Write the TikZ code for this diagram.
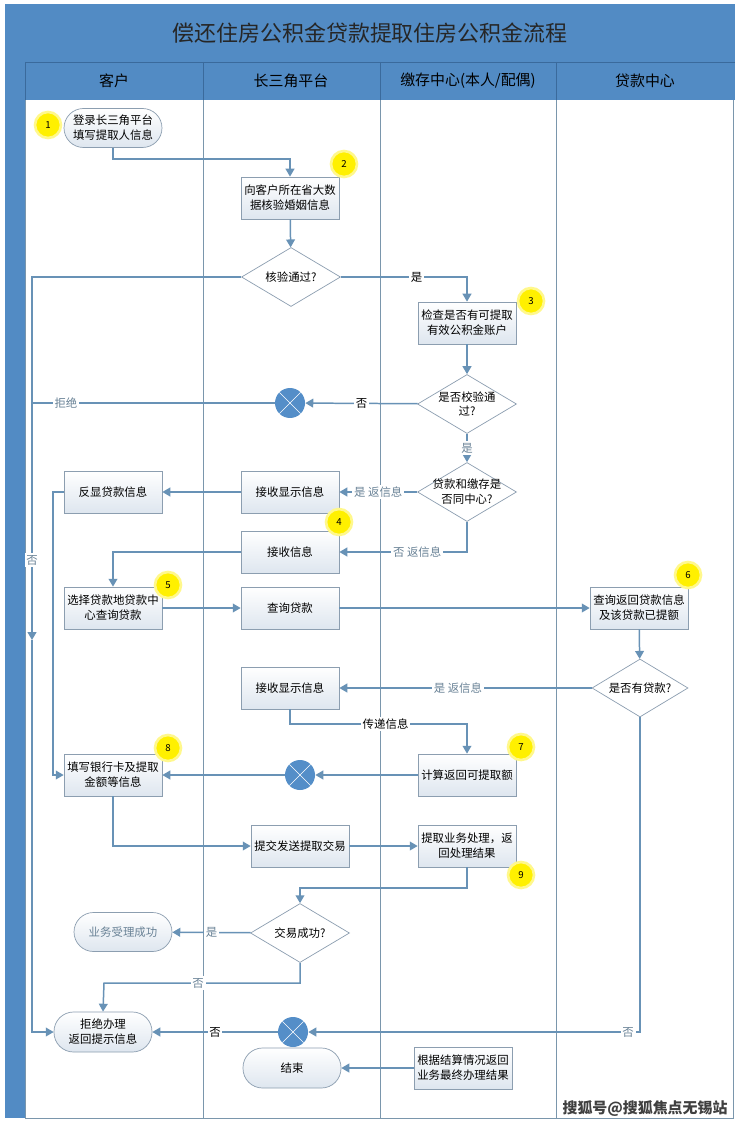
\documentclass[tikz,border=0pt]{standalone}
\usepackage{fontspec}
\setmainfont{Noto Sans CJK SC}
\usetikzlibrary{arrows.meta,shapes.geometric}
\definecolor{lanebl}{RGB}{82,139,196}
\definecolor{lanedk}{RGB}{58,106,156}
\definecolor{laneln}{RGB}{122,150,172}
\definecolor{flowcl}{RGB}{104,146,182}
\definecolor{boxln}{RGB}{140,158,176}
\definecolor{boxsh}{RGB}{222,230,239}
\definecolor{lblgr}{RGB}{105,130,150}
\definecolor{badgey}{RGB}{255,240,0}
\definecolor{xcirc}{RGB}{84,142,200}
\begin{document}
\begin{tikzpicture}[x=0.02cm, y=-0.02cm,
    every node/.style={font=\fontsize{6.5}{8.5}\selectfont, align=center},
    proc/.style={rectangle, draw=boxln, top color=white, bottom color=boxsh, minimum width=1.96cm, minimum height=0.84cm, inner sep=1pt},
    term/.style={rectangle, rounded corners=0.39cm, draw=boxln, top color=white, bottom color=boxsh, minimum width=1.96cm, minimum height=0.78cm, inner sep=1pt},
    decis/.style={diamond, draw=boxln, fill=white, minimum width=1.98cm, minimum height=1.18cm, inner sep=0pt},
    xcross/.style={circle, fill=xcirc, minimum size=0.6cm, inner sep=0pt,
        path picture={\draw[white, line width=0.3pt] (path picture bounding box.north west) -- (path picture bounding box.south east) (path picture bounding box.north east) -- (path picture bounding box.south west);}},
    badge/.style={circle, fill=badgey, draw=badgey!45, line width=1.5pt, minimum size=0.52cm, inner sep=0pt, font=\fontsize{5.5}{6}\selectfont},
    flow/.style={-{Triangle[length=4.5pt,width=5pt]}, draw=flowcl, line width=0.85pt},
    link/.style={draw=flowcl, line width=0.85pt},
    lbl/.style={fill=white, inner sep=1pt, text=black},
    lblg/.style={fill=white, inner sep=1pt, text=lblgr}]
    \fill[white] (0,0) rectangle (740,1128);
    \useasboundingbox (0,0) rectangle (740,1128);
    \fill[lanebl] (5,4) rectangle (735,100);
    \fill[lanebl] (5,100) rectangle (25,1118);
    \draw[laneln] (25,100) -- (25,1118) -- (733,1118) -- (733,100);
    \foreach \xl in {203,380,556} \draw[laneln] (\xl,100) -- (\xl,1118);
    \draw[lanedk] (25,62) -- (735,62);
    \foreach \xl in {25,203,380,556} \draw[lanedk] (\xl,62) -- (\xl,100);
    \node[font=\fontsize{12.5}{14}\selectfont, text=black!85] (title) at (370,33) {偿还住房公积金贷款提取住房公积金流程};
    \node[font=\fontsize{8.5}{10}\selectfont] (h1) at (114,81) {客户};
    \node[font=\fontsize{8.5}{10}\selectfont] (h2) at (291,81) {长三角平台};
    \node[font=\fontsize{8.5}{10}\selectfont] (h3) at (468,81) {缴存中心(本人/配偶)};
    \node[font=\fontsize{8.5}{10}\selectfont] (h4) at (645,81) {贷款中心};

    \node[term] (n1) at (113,128) {登录长三角平台\\填写提取人信息};
    \node[proc] (n2) at (290,198) {向客户所在省大数\\据核验婚姻信息};
    \node[decis, label={center:核验通过?}] (d1) at (291,277) {};
    \node[proc] (n3) at (467,323) {检查是否有可提取\\有效公积金账户};
    \node[decis, label={center:是否校验通\\过?}] (d2) at (467,404) {};
    \node[xcross] (x1) at (290,403) {};
    \node[decis, label={center:贷款和缴存是\\否同中心?}] (d3) at (467,492) {};
    \node[proc] (n4a) at (290,492) {接收显示信息};
    \node[proc] (n4b) at (113,492) {反显贷款信息};
    \node[proc] (n4c) at (290,552) {接收信息};
    \node[proc] (n5) at (113,608) {选择贷款地贷款中\\心查询贷款};
    \node[proc] (n5b) at (290,608) {查询贷款};
    \node[proc] (n6) at (639,608) {查询返回贷款信息\\及该贷款已提额};
    \node[decis, minimum width=1.92cm, minimum height=1.16cm, label={center:是否有贷款?}] (d4) at (640,688) {};
    \node[proc] (n6b) at (290,688) {接收显示信息};
    \node[proc] (n7) at (467,775) {计算返回可提取额};
    \node[xcross] (x2) at (300,775) {};
    \node[proc] (n8) at (113,775) {填写银行卡及提取\\金额等信息};
    \node[proc] (n9a) at (300,846) {提交发送提取交易};
    \node[proc] (n9) at (467,846) {提取业务处理，返\\回处理结果};
    \node[decis, label={center:交易成功?}] (d5) at (300,933) {};
    \node[term, text=lblgr] (ok) at (123,932) {业务受理成功};
    \node[term, minimum height=0.8cm] (rej) at (103,1032) {拒绝办理\\返回提示信息};
    \node[xcross] (x3) at (293,1032) {};
    \node[term, minimum height=0.8cm] (fin) at (292,1068) {结束};
    \node[proc] (n10) at (463,1068) {根据结算情况返回\\业务最终办理结果};

    \coordinate (j1) at (200,159);
    \coordinate (j2) at (32,640);
    \coordinate (j4) at (53,640);
    \coordinate (j5) at (467,724);
    \coordinate (j6) at (300,888);
    \coordinate (j7) at (104,983);

    \draw[flow] (n1.south) |- (j1) -| (n2.north);
    \draw[flow] (n2) -- (d1);
    \draw[flow] (d1.east) -| node[lbl, pos=0.3] {是} (n3.north);
    \draw[flow] (d1.west) -| node[lblg, pos=0.89] {否} (j2);
    \draw[flow] (j2) |- (rej.west);
    \draw[flow] (n3) -- (d2);
    \draw[flow] (d2) -- node[lbl] {否} (x1);
    \draw[link] (x1.west) -- node[lblg, pos=0.86] {拒绝} (x1.west -| j2);
    \draw[flow] (d2) -- node[lblg] {是} (d3);
    \draw[flow] (d3) -- node[lblg] {是 返信息} (n4a);
    \draw[flow] (d3.south) |- node[lblg, pos=0.695] {否 返信息} (n4c.east);
    \draw[flow] (n4a) -- (n4b);
    \draw[flow] (n4b.west) -| (j4) |- (n8.west);
    \draw[flow] (n4c.west) -| (n5.north);
    \draw[flow] (n5) -- (n5b);
    \draw[flow] (n5b) -- (n6);
    \draw[flow] (n6) -- (d4);
    \draw[flow] (d4) -- node[lblg, pos=0.53] {是 返信息} (n6b);
    \draw[flow] (n6b.south) |- node[lbl, pos=0.77] {传递信息} (j5) -- (n7.north);
    \draw[flow] (n7) -- (x2);
    \draw[flow] (x2) -- (n8);
    \draw[flow] (n8.south) |- (n9a.west);
    \draw[flow] (n9a) -- (n9);
    \draw[flow] (n9.south) |- (j6) -- (d5.north);
    \draw[flow] (d5) -- node[lblg] {是} (ok);
    \draw[flow] (d5.south) |- node[lblg, pos=0.76] {否} (j7) -- (rej.north);
    \draw[flow] (d4.south) |- node[lblg, pos=0.518] {否} (x3.east);
    \draw[flow] (x3) -- node[lbl] {否} (rej);
    \draw[flow] (n10) -- (fin);

    \node[badge] (b1) at (48,125) {1};
    \node[badge] (b2) at (344,164) {2};
    \node[badge] (b3) at (531,301) {3};
    \node[badge] (b4) at (339,522) {4};
    \node[badge] (b5) at (168,585) {5};
    \node[badge] (b6) at (688,575) {6};
    \node[badge] (b7) at (521,747) {7};
    \node[badge] (b8) at (168,748) {8};
    \node[badge] (b9) at (521,875) {9};
    \node[font=\fontsize{8.5}{10}\selectfont\bfseries, text=black!75] (wm) at (645,1109) {搜狐号@搜狐焦点无锡站};
\end{tikzpicture}
\end{document}
